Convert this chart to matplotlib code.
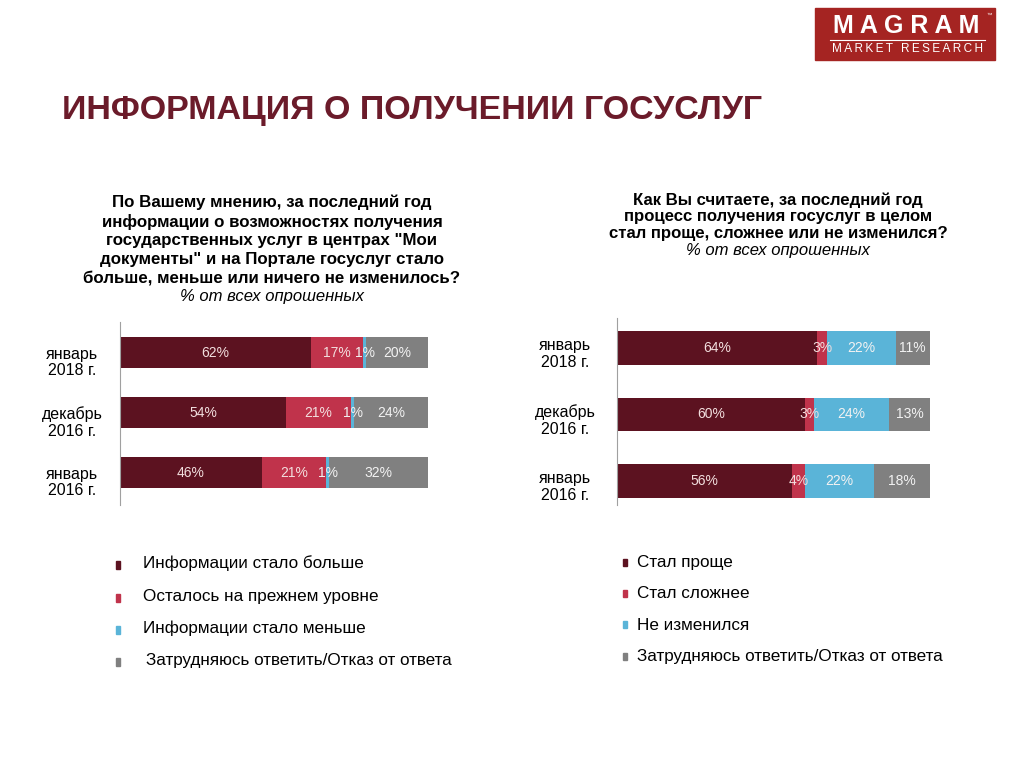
import matplotlib
matplotlib.use("Agg")
import matplotlib.pyplot as plt
from matplotlib.patches import Rectangle
from matplotlib.transforms import blended_transform_factory

plt.rcParams['font.family'] = ['Liberation Sans', 'DejaVu Sans']

W, H = 1024, 768

# data
periods = ["январь\n2016 г.", "декабрь\n2016 г.", "январь\n2018 г."]

left_names = ["Информации стало больше", "Осталось на прежнем уровне",
              "Информации стало меньше", "Затрудняюсь ответить/Отказ от ответа"]
left_more = [46, 54, 62]
left_same = [21, 21, 17]
left_less = [1, 1, 1]
left_dk = [32, 24, 20]

right_names = ["Стал проще", "Стал сложнее", "Не изменился",
               "Затрудняюсь ответить/Отказ от ответа"]
right_simpler = [56, 60, 64]
right_harder = [4, 3, 3]
right_same = [22, 24, 22]
right_dk = [18, 13, 11]

colors = ["#5c1220", "#c0334b", "#5ab4d8", "#808080"]
label_colors = ["#f2dede", "#f2dede", "#f2f2f2", "#f2f2f2"]
maroon = "#6b1b2a"

fig = plt.figure(figsize=(W / 100, H / 100), dpi=100)


def px_axes(x0, y0, x1, y1):
    return fig.add_axes([x0 / W, 1 - y1 / H, (x1 - x0) / W, (y1 - y0) / H])


def stacked(ax, series, height, ylim, label_x, label_dy, lsp):
    ypos = list(range(len(periods)))
    left = [0] * len(periods)
    for vals, col, lc in zip(series, colors, label_colors):
        bars = ax.barh(ypos, vals, left=left, height=height, color=col,
                       edgecolor="none")
        ax.bar_label(bars, labels=[f"{v}%" for v in vals], label_type="center",
                     color=lc, fontsize=10)
        left = [a + b for a, b in zip(left, vals)]
    ax.set_xlim(0, 100)
    ax.set_ylim(*ylim)
    ax.set_yticks([])
    ax.set_xticks([])
    tr = blended_transform_factory(ax.transAxes, ax.transData)
    for y, p in zip(ypos, periods):
        ax.text(label_x, y - label_dy, p, transform=tr, ha="center",
                va="center", fontsize=11.5, multialignment="center",
                linespacing=lsp)
    for s in ["top", "right", "bottom"]:
        ax.spines[s].set_visible(False)
    ax.spines["left"].set_color("#a0a0a0")
    ax.spines["left"].set_linewidth(0.8)


axL = px_axes(120, 322, 428, 505)
stacked(axL, [left_more, left_same, left_less, left_dk], 0.52,
        (-0.54, 2.51), (72 - 120) / 308, 10 / 60, 1.12)

axR = px_axes(617, 318, 930, 505)
stacked(axR, [right_simpler, right_harder, right_same, right_dk], 0.51,
        (-0.36, 2.45), (565 - 617) / 313, 6 / 66.5, 1.18)

# title
fig.text(62 / W, 1 - 111 / H, "ИНФОРМАЦИЯ О ПОЛУЧЕНИИ ГОСУСЛУГ", color=maroon,
         fontsize=24.5, fontweight="bold", va="center", ha="left")

# questions
fig.text(272 / W, 1 - 195 / H,
         "По Вашему мнению, за последний год\n"
         "информации о возможностях получения\n"
         "государственных услуг в центрах \"Мои\n"
         "документы\" и на Портале госуслуг стало\n"
         "больше, меньше или ничего не изменилось?",
         ha="center", va="top", fontsize=12.2, fontweight="bold",
         linespacing=1.28)
fig.text(272 / W, 1 - 297 / H, "% от всех опрошенных", ha="center", va="center",
         fontsize=12, style="italic")

fig.text(778 / W, 1 - 192 / H,
         "Как Вы считаете, за последний год\n"
         "процесс получения госуслуг в целом\n"
         "стал проще, сложнее или не изменился?",
         ha="center", va="top", fontsize=12.1, fontweight="bold",
         linespacing=1.16)
fig.text(778 / W, 1 - 250 / H, "% от всех опрошенных", ha="center", va="center",
         fontsize=12, style="italic")

# legends
left_rows = [563, 596, 628, 660]
left_tx = [143, 143, 143, 146]
for name, col, y, tx in zip(left_names, colors, left_rows, left_tx):
    fig.patches.append(Rectangle((116 / W, 1 - (y + 6) / H), 4 / W, 8 / H,
                                 color=col, transform=fig.transFigure))
    fig.text(tx / W, 1 - y / H, name, fontsize=12.3, va="center", ha="left")

right_rows = [563, 594, 625, 657]
for name, col, y in zip(right_names, colors, right_rows):
    fig.patches.append(Rectangle((623 / W, 1 - (y + 3) / H), 4 / W, 7 / H,
                                 color=col, transform=fig.transFigure))
    fig.text(637 / W, 1 - y / H, name, fontsize=12.3, va="center", ha="left")

# logo
fig.patches.append(Rectangle((815 / W, 1 - 60 / H), 180 / W, 52 / H,
                             color="#a52422", transform=fig.transFigure))
fig.text(906 / W, 1 - 26 / H, "M A G R A M", color="white", fontsize=18,
         fontweight="bold", ha="center", va="center")
fig.text(989 / W, 1 - 15 / H, "™", color="white", fontsize=4,
         ha="center", va="center")
fig.add_artist(plt.Line2D([830 / W, 985 / W], [1 - 40 / H, 1 - 40 / H],
                          color="white", lw=0.8, transform=fig.transFigure))
fig.text(907 / W, 1 - 49 / H, "\u2009".join("MARKET RESEARCH"), color="white",
         fontsize=8.5, ha="center", va="center")

fig.savefig("out.png", dpi=100)
